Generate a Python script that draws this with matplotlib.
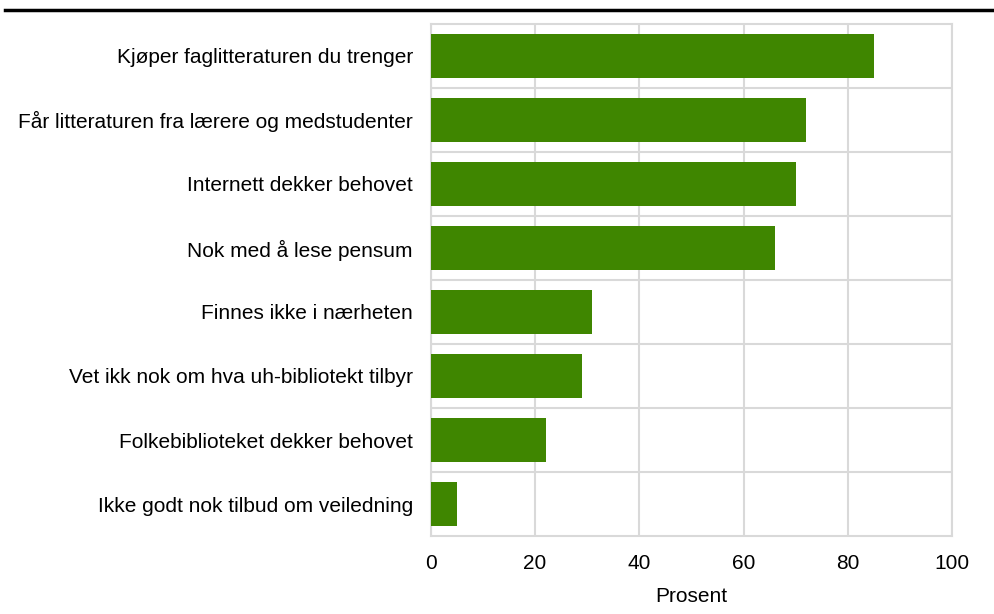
import numpy as np
import matplotlib.pyplot as plt
from matplotlib.ticker import FixedLocator

plt.rcParams['font.family'] = ['Liberation Sans', 'DejaVu Sans']

categories = ["Kjøper faglitteraturen du trenger",
              "Får litteraturen fra lærere og medstudenter",
              "Internett dekker behovet",
              "Nok med å lese pensum",
              "Finnes ikke i nærheten",
              "Vet ikk nok om hva uh-bibliotekt tilbyr",
              "Folkebiblioteket dekker behovet",
              "Ikke godt nok tilbud om veiledning"]
values = [85, 72, 70, 66, 31, 29, 22, 5]
xticks = [0, 20, 40, 60, 80, 100]

grid_col = '#d9d9d9'
bar_col = '#3f8600'
fs = 15

fig = plt.figure(figsize=(9.95, 6.14), dpi=100)
ax = fig.add_axes([0.433, 0.127, 0.524, 0.834])

y = np.arange(len(categories))
ax.barh(y, values, height=0.68, color=bar_col, zorder=3)

ax.set_xlim(0, 100)
ax.set_ylim(len(categories) - 0.5, -0.5)
ax.set_xticks(xticks)
ax.set_yticks(y)
ax.set_yticklabels(categories, fontsize=fs)
ax.yaxis.set_minor_locator(FixedLocator(y[:-1] + 0.5))
ax.tick_params(axis='both', which='both', length=0, labelsize=fs, colors='black')
ax.tick_params(axis='x', pad=13)
ax.tick_params(axis='y', pad=13)
ax.grid(axis='x', which='major', color=grid_col, linewidth=1.5, zorder=0)
ax.grid(axis='y', which='minor', color=grid_col, linewidth=1.5, zorder=0)
ax.set_axisbelow(True)
for s in ax.spines.values():
    s.set_color(grid_col)
    s.set_linewidth(1.5)

ax.set_xlabel("Prosent", fontsize=fs, labelpad=10)

# thick rule under the (cropped) figure caption
fig.add_artist(plt.Line2D([0.005, 1.0], [0.984, 0.984], color='black', linewidth=2.5,
                          transform=fig.transFigure))

fig.savefig("out.png", dpi=100)
